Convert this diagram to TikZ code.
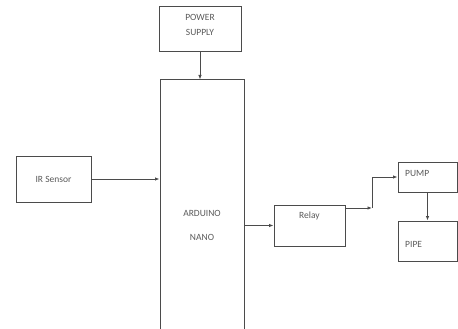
\documentclass[tikz,border=0pt]{standalone}
\usepackage{fontspec}
\setmainfont{Carlito}
\usetikzlibrary{arrows.meta}
\definecolor{linegray}{RGB}{75,75,75}
\definecolor{txtgray}{RGB}{90,90,90}
\begin{document}
\begin{tikzpicture}[x=1pt,y=-1pt,
  box/.style={draw=linegray, line width=1pt, rectangle, inner sep=0pt},
  lbl/.style={text=txtgray, font=\fontsize{9.5}{11}\selectfont, inner sep=0pt},
  arr/.style={draw=linegray, line width=1pt, -{Latex[length=4.5pt,width=3.5pt]}}]
\useasboundingbox (0,0) rectangle (458,329);
\clip (0,0) rectangle (458,329);
% boxes
\node[box, minimum width=82pt, minimum height=45pt] (ps) at (200,29.5) {};
\node[box, minimum width=84pt, minimum height=270pt] (ard) at (202,215) {};
\node[box, minimum width=75pt, minimum height=46pt] (ir) at (53.5,179) {};
\node[box, minimum width=71pt, minimum height=41pt] (rel) at (309.5,225.5) {};
\node[box, minimum width=59pt, minimum height=30pt] (pump) at (427.5,177) {};
\node[box, minimum width=59pt, minimum height=40pt] (pipe) at (427.5,241) {};
% labels
\node[lbl] (t1) at (200,17) {POWER};
\node[lbl] (t2) at (200,32) {SUPPLY};
\node[lbl] (t3) at (202,213) {ARDUINO};
\node[lbl] (t4) at (202,237) {NANO};
\node[lbl] (t5) at (53.5,179) {IR Sensor};
\node[lbl] (t6) at (309.5,216) {Relay};
\node[lbl, anchor=west] (t7) at (405,173) {PUMP};
\node[lbl, anchor=west] (t8) at (405,244) {PIPE};
% connectors
\coordinate (j) at (372,208);
\draw[arr] (ps.south) -- (ps.south |- ard.north);
\draw[arr] (ir.east) -- (ir.east -| ard.west);
\draw[arr] (rel.west -| ard.east) -- (rel.west);
\draw[arr] (j -| rel.east) -- (j);
\draw[arr] (j) |- (pump.west);
\draw[arr] (pump.south) -- (pipe.north);
\end{tikzpicture}
\end{document}
